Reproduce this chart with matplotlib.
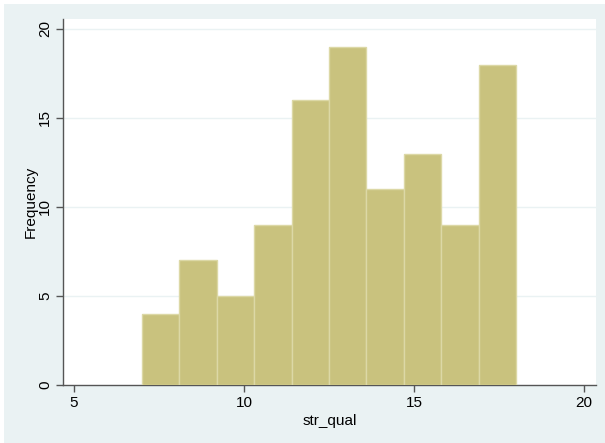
import matplotlib
matplotlib.use("Agg")
import matplotlib.pyplot as plt
from matplotlib.patches import Rectangle
import numpy as np

plt.rcParams['font.family'] = ['Liberation Sans', 'DejaVu Sans']

bin_edges = [7.0, 8.1, 9.2, 10.3, 11.4, 12.5, 13.6, 14.7, 15.8, 16.9, 18.0]
frequencies = [4, 7, 5, 9, 16, 19, 11, 13, 9, 18]
x_ticks = [5, 10, 15, 20]
y_ticks = [0, 5, 10, 15, 20]

bg = '#EAF2F3'
W, H = 605, 443
fig = plt.figure(figsize=(W/100, H/100), dpi=100, facecolor='white')
fig.patches.append(Rectangle((4/W, 0), 1 - 4/W, 1 - 4/H, transform=fig.transFigure,
                             facecolor=bg, edgecolor='none', zorder=-5))
ax = fig.add_axes([63/W, (H-385)/H, (596-63)/W, (385-19)/H])
ax.set_facecolor('white')

lefts = np.array(bin_edges[:-1])
widths = np.diff(bin_edges)
ax.bar(lefts, frequencies, width=widths, align='edge', color='#C9C27E',
       edgecolor='#DCD8A6', linewidth=1.0, zorder=3)

ax.set_xlim(4.68, 20.35)
ax.set_ylim(0, 20.56)
ax.set_xticks(x_ticks)
ax.set_yticks(y_ticks)
ax.set_yticklabels([str(v) for v in y_ticks], rotation=90, va='center')
for y in y_ticks[1:]:
    ax.axhline(y, color='#EAF2F3', linewidth=1.0, zorder=1)

for s in ['top', 'right']:
    ax.spines[s].set_visible(False)
for s in ['left', 'bottom']:
    ax.spines[s].set_color('#555555')
    ax.spines[s].set_linewidth(1.0)
ax.tick_params(axis='both', direction='out', length=5, width=1, color='#555555',
               labelsize=11, labelcolor='black', pad=3)

ax.set_xlabel('str_qual', fontsize=11, labelpad=2.5)
ax.set_ylabel('Frequency', fontsize=11, labelpad=0)

fig.savefig('out.png', dpi=100, facecolor='white')
